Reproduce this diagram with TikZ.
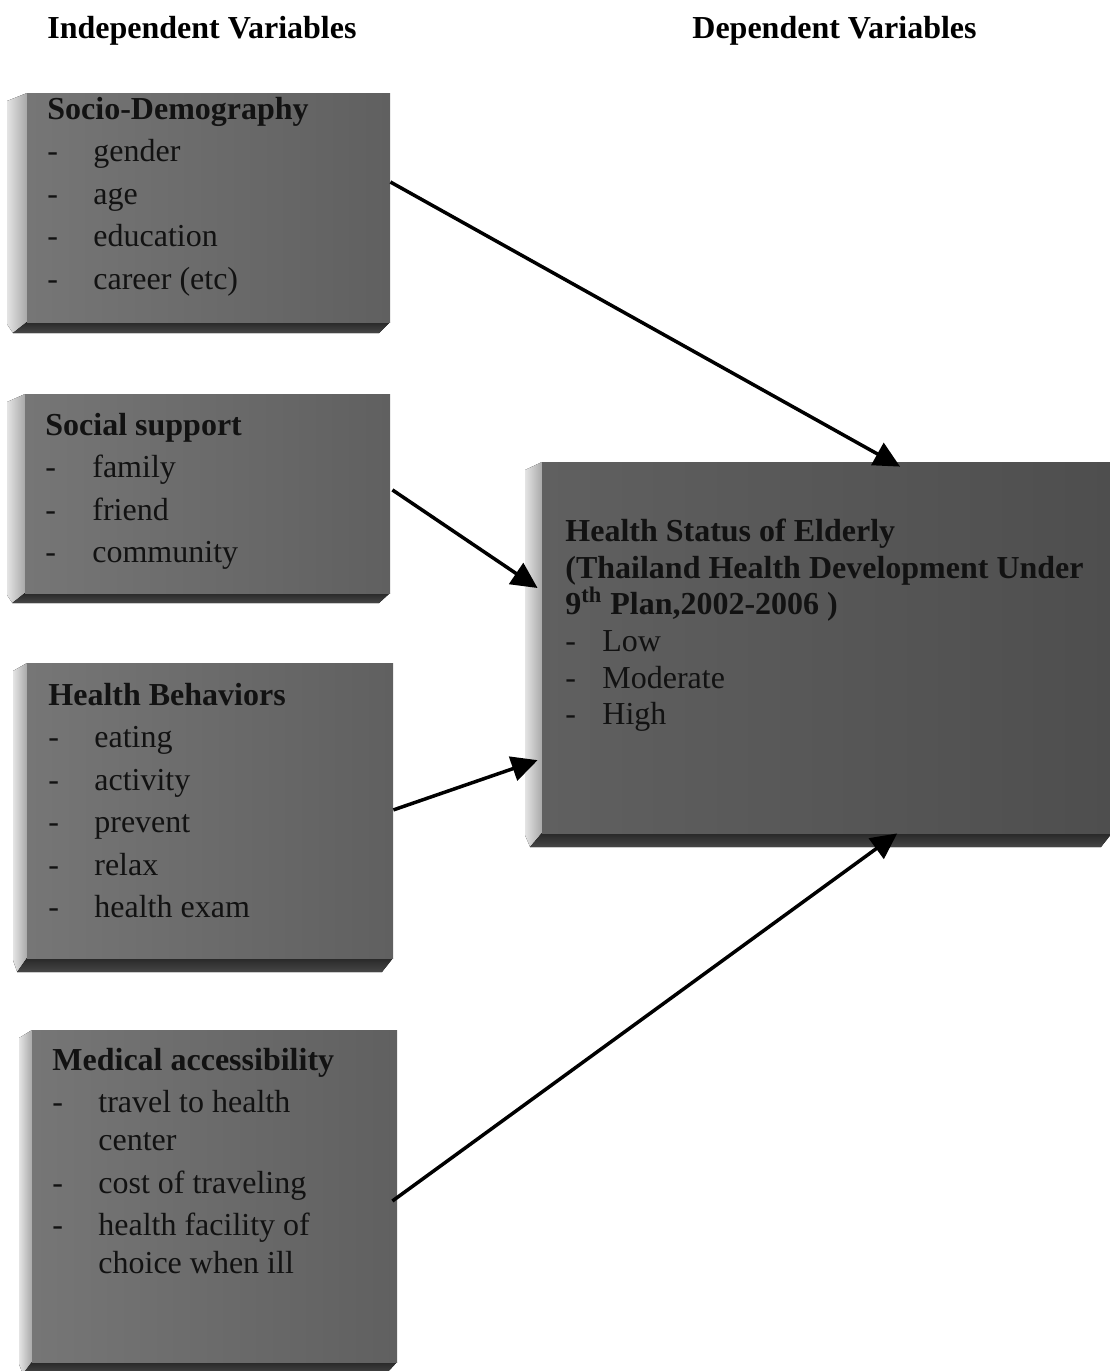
\documentclass[tikz,border=0pt]{standalone}
\usepackage{fontspec}
\setmainfont{Liberation Serif}
\usetikzlibrary{arrows.meta,calc,fit}
\definecolor{faceL}{RGB}{118,118,118}
\definecolor{faceR}{RGB}{96,96,96}
\definecolor{hfaceL}{RGB}{96,96,96}
\definecolor{hfaceR}{RGB}{78,78,78}
\definecolor{bevL}{RGB}{228,228,228}
\definecolor{bevR}{RGB}{168,168,168}
\definecolor{bevT}{RGB}{40,40,40}
\definecolor{bevB}{RGB}{70,70,70}
\definecolor{txt}{RGB}{18,18,18}
\newcommand\dashitem[2][23pt]{\makebox[#1][l]{-}#2}
% name, style, x0, y0, x1, y1, side bevel width, base bevel height
\newcommand\bevbox[8]{%
  \fill[sidebevel] (#3,#4) -- (#3-#7,#4+8) -- (#3-#7,#6+2) -- (#3-0.7*#7,#6+#8) -- (#3,#6) -- cycle;
  \fill[basebevel] (#3,#6) -- (#5,#6) -- (#5-11,#6+#8) -- (#3-0.7*#7,#6+#8) -- cycle;
  \node[#2, fit={(#3,#4) (#5,#6)}] (#1) {};
}
\tikzset{
  face/.style={inner sep=0pt, draw=none, left color=faceL, right color=faceR},
  hface/.style={inner sep=0pt, draw=none, left color=hfaceL, right color=hfaceR},
  sidebevel/.style={left color=bevL, right color=bevR},
  basebevel/.style={top color=bevT, bottom color=bevB},
  boxtext/.style={anchor=north west, inner sep=0pt, align=left, text=txt, font=\fontsize{16pt}{19pt}\selectfont},
  htext/.style={anchor=north west, inner sep=0pt, align=left, text=txt, font=\fontsize{16pt}{18.35pt}\selectfont},
  header/.style={anchor=base west, inner sep=0pt, font=\fontsize{16pt}{19pt}\selectfont\bfseries},
  link/.style={line width=1.75pt, draw=black, -{Triangle[length=13pt,width=12.5pt]}}
}
\begin{document}
\begin{tikzpicture}[x=0.5pt,y=-0.5pt]
\useasboundingbox (0,0) rectangle (1109,1371);
\fill[white] (0,0) rectangle (1109,1371);

\node[header] (hiv) at (47,38) {Independent Variables};
\node[header] (hdv) at (692,38) {Dependent Variables};

\bevbox{sd}{face}{27}{93}{390}{322}{20}{11}
\bevbox{ss}{face}{25}{394}{390}{593}{18}{10}
\bevbox{hb}{face}{27}{663}{393}{958}{14}{14}
\bevbox{ma}{face}{32}{1030}{397}{1362}{13}{12}
\bevbox{hs}{hface}{542}{462}{1112}{833}{17}{14}

\node[boxtext] (sdt) at (47,95) {\rule{0pt}{12pt}\textbf{Socio-Demography}\\[2.25pt]
  \dashitem{gender}\\[2.25pt]\dashitem{age}\\[2.25pt]\dashitem{education}\\[2.25pt]\dashitem{career (etc)}};
\node[boxtext] (sst) at (45,411) {\rule{0pt}{12pt}\textbf{Social support}\\[2.25pt]
  \dashitem[23.5pt]{family}\\[2.25pt]\dashitem[23.5pt]{friend}\\[2.25pt]\dashitem[23.5pt]{community}};
\node[boxtext] (hbt) at (48,681) {\rule{0pt}{12pt}\textbf{Health Behaviors}\\[2.25pt]
  \dashitem{eating}\\[2.25pt]\dashitem{activity}\\[2.25pt]\dashitem{prevent}\\[2.25pt]\dashitem{relax}\\[2.25pt]\dashitem{health exam}};
\node[boxtext] (mat) at (52,1046) {\rule{0pt}{12pt}\textbf{Medical accessibility}\\[2.25pt]
  \dashitem{travel to health}\\\hspace*{23pt}center\\[2.25pt]\dashitem{cost of traveling}\\[2.25pt]\dashitem{health facility of}\\\hspace*{23pt}choice when ill};
\node[htext] (hst) at (565,517) {\rule{0pt}{12pt}\textbf{Health Status of Elderly}\\
  \textbf{(Thailand Health Development Under}\\
  \textbf{9\textsuperscript{th} Plan,2002-2006 )}\\
  \dashitem[18.5pt]{Low}\\\dashitem[18.5pt]{Moderate}\\\dashitem[18.5pt]{High}};

\draw[link] ($(sd.north east)!0.389!(sd.south east)$) -- ($(hs.north west)!0.628!(hs.north east)+(0,5)$);
\draw[link] ($(ss.north east)!0.482!(ss.south east)+(2,0)$) -- ($(hs.north west)!0.34!(hs.south west)+(-4,0)$);
\draw[link] ($(hb.north east)!0.498!(hb.south east)$) -- ($(hs.north west)!0.803!(hs.south west)+(-4,0)$);
\draw[link] ($(ma.north east)!0.515!(ma.south east)+(-5,0)$) -- ($(hs.south west)!0.623!(hs.south east)$);
\end{tikzpicture}
\end{document}
